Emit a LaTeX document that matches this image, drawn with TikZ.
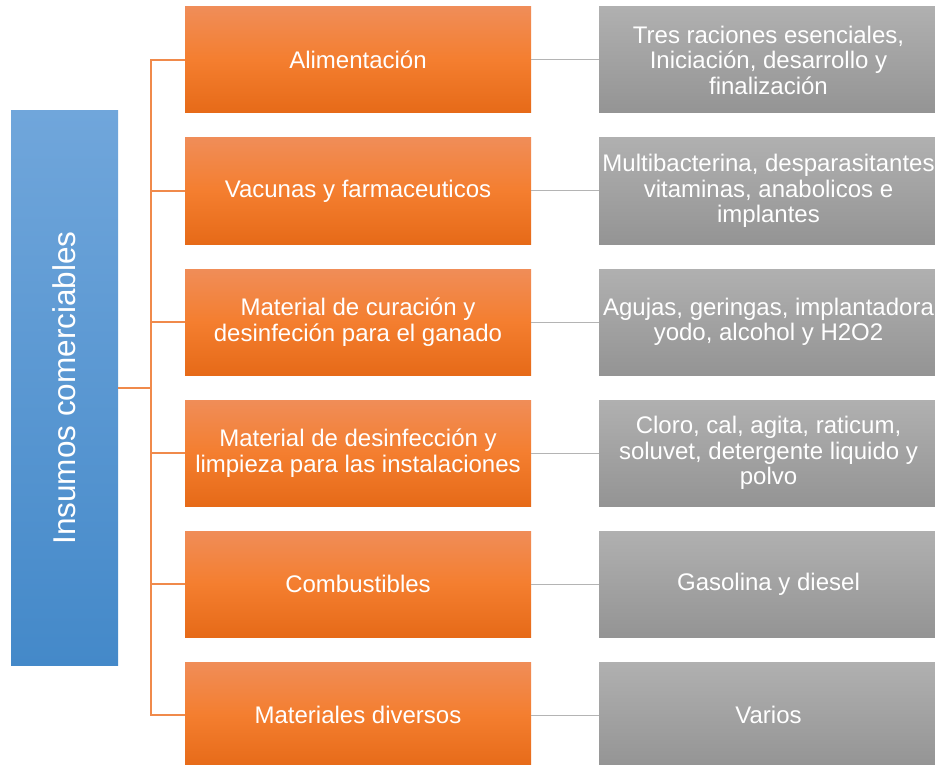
\documentclass[tikz,border=0pt]{standalone}
\usepackage{fontspec}
\setmainfont{Liberation Sans}
\begin{document}
\begin{tikzpicture}[x=1pt,y=-1pt,
  orangebox/.style={rectangle, minimum width=346pt, minimum height=106pt, inner sep=0pt,
    top color=orgtop, bottom color=orgbot, middle color=orgmid, text=white,
    font=\fontsize{24}{25.5}\selectfont, align=center},
  graybox/.style={rectangle, minimum width=339pt, minimum height=106pt, inner sep=0pt,
    top color=grytop, bottom color=grybot, text=white,
    font=\fontsize{24}{25.5}\selectfont, align=center},
  bluebox/.style={rectangle, minimum width=107pt, minimum height=554pt, inner sep=0pt,
    top color=bluetop, bottom color=bluebot, text=white},
  orgline/.style={draw=orgline, line width=1.3pt},
  gryline/.style={draw=grayline, line width=1pt}]
\definecolor{orgtop}{HTML}{F08D58}
\definecolor{orgmid}{HTML}{F47E2F}
\definecolor{orgbot}{HTML}{E66A18}
\definecolor{grytop}{HTML}{B0B0B0}
\definecolor{grybot}{HTML}{949494}
\definecolor{bluetop}{HTML}{70A6DB}
\definecolor{bluebot}{HTML}{4489C9}
\definecolor{orgline}{HTML}{F08A4B}
\definecolor{grayline}{HTML}{B4B4B4}
\useasboundingbox (0,0) rectangle (935,765);
\clip (0,0) rectangle (935,765);
\fill[white] (0,0) rectangle (935,765);

\node[bluebox] (root) at (64.5,388) {};
\node[rotate=90, text=white, font=\fontsize{31.5}{34}\selectfont] (roottxt) at (64.5,388) {Insumos comerciables};

\node[orangebox] (o1) at (358,60) {Alimentación};
\node[orangebox] (o2) at (358,191) {Vacunas y farmaceuticos};
\node[orangebox] (o3) at (358,322) {Material de curación y\\desinfeción para el ganado};
\node[orangebox] (o4) at (358,453) {Material de desinfección y\\limpieza para las instalaciones};
\node[orangebox] (o5) at (358,584) {Combustibles};
\node[orangebox] (o6) at (358,715) {Materiales diversos};

\node[graybox] (g1) at (768.5,60) {Tres raciones esenciales,\\Iniciación, desarrollo y\\finalización};
\node[graybox] (g2) at (768.5,191) {Multibacterina, desparasitantes\\vitaminas, anabolicos e\\implantes};
\node[graybox] (g3) at (768.5,322) {Agujas, geringas, implantadora\\yodo, alcohol y H2O2};
\node[graybox] (g4) at (768.5,453) {Cloro, cal, agita, raticum,\\soluvet, detergente liquido y\\polvo};
\node[graybox] (g5) at (768.5,584) {Gasolina y diesel};
\node[graybox] (g6) at (768.5,715) {Varios};

\coordinate (bus) at (151,388);
\draw[orgline] (root.east) -- (bus);
\foreach \i in {1,...,6}{
  \draw[orgline] (bus) |- (o\i.west);
  \draw[gryline] (o\i.east) -- (g\i.west);
}
\end{tikzpicture}
\end{document}
